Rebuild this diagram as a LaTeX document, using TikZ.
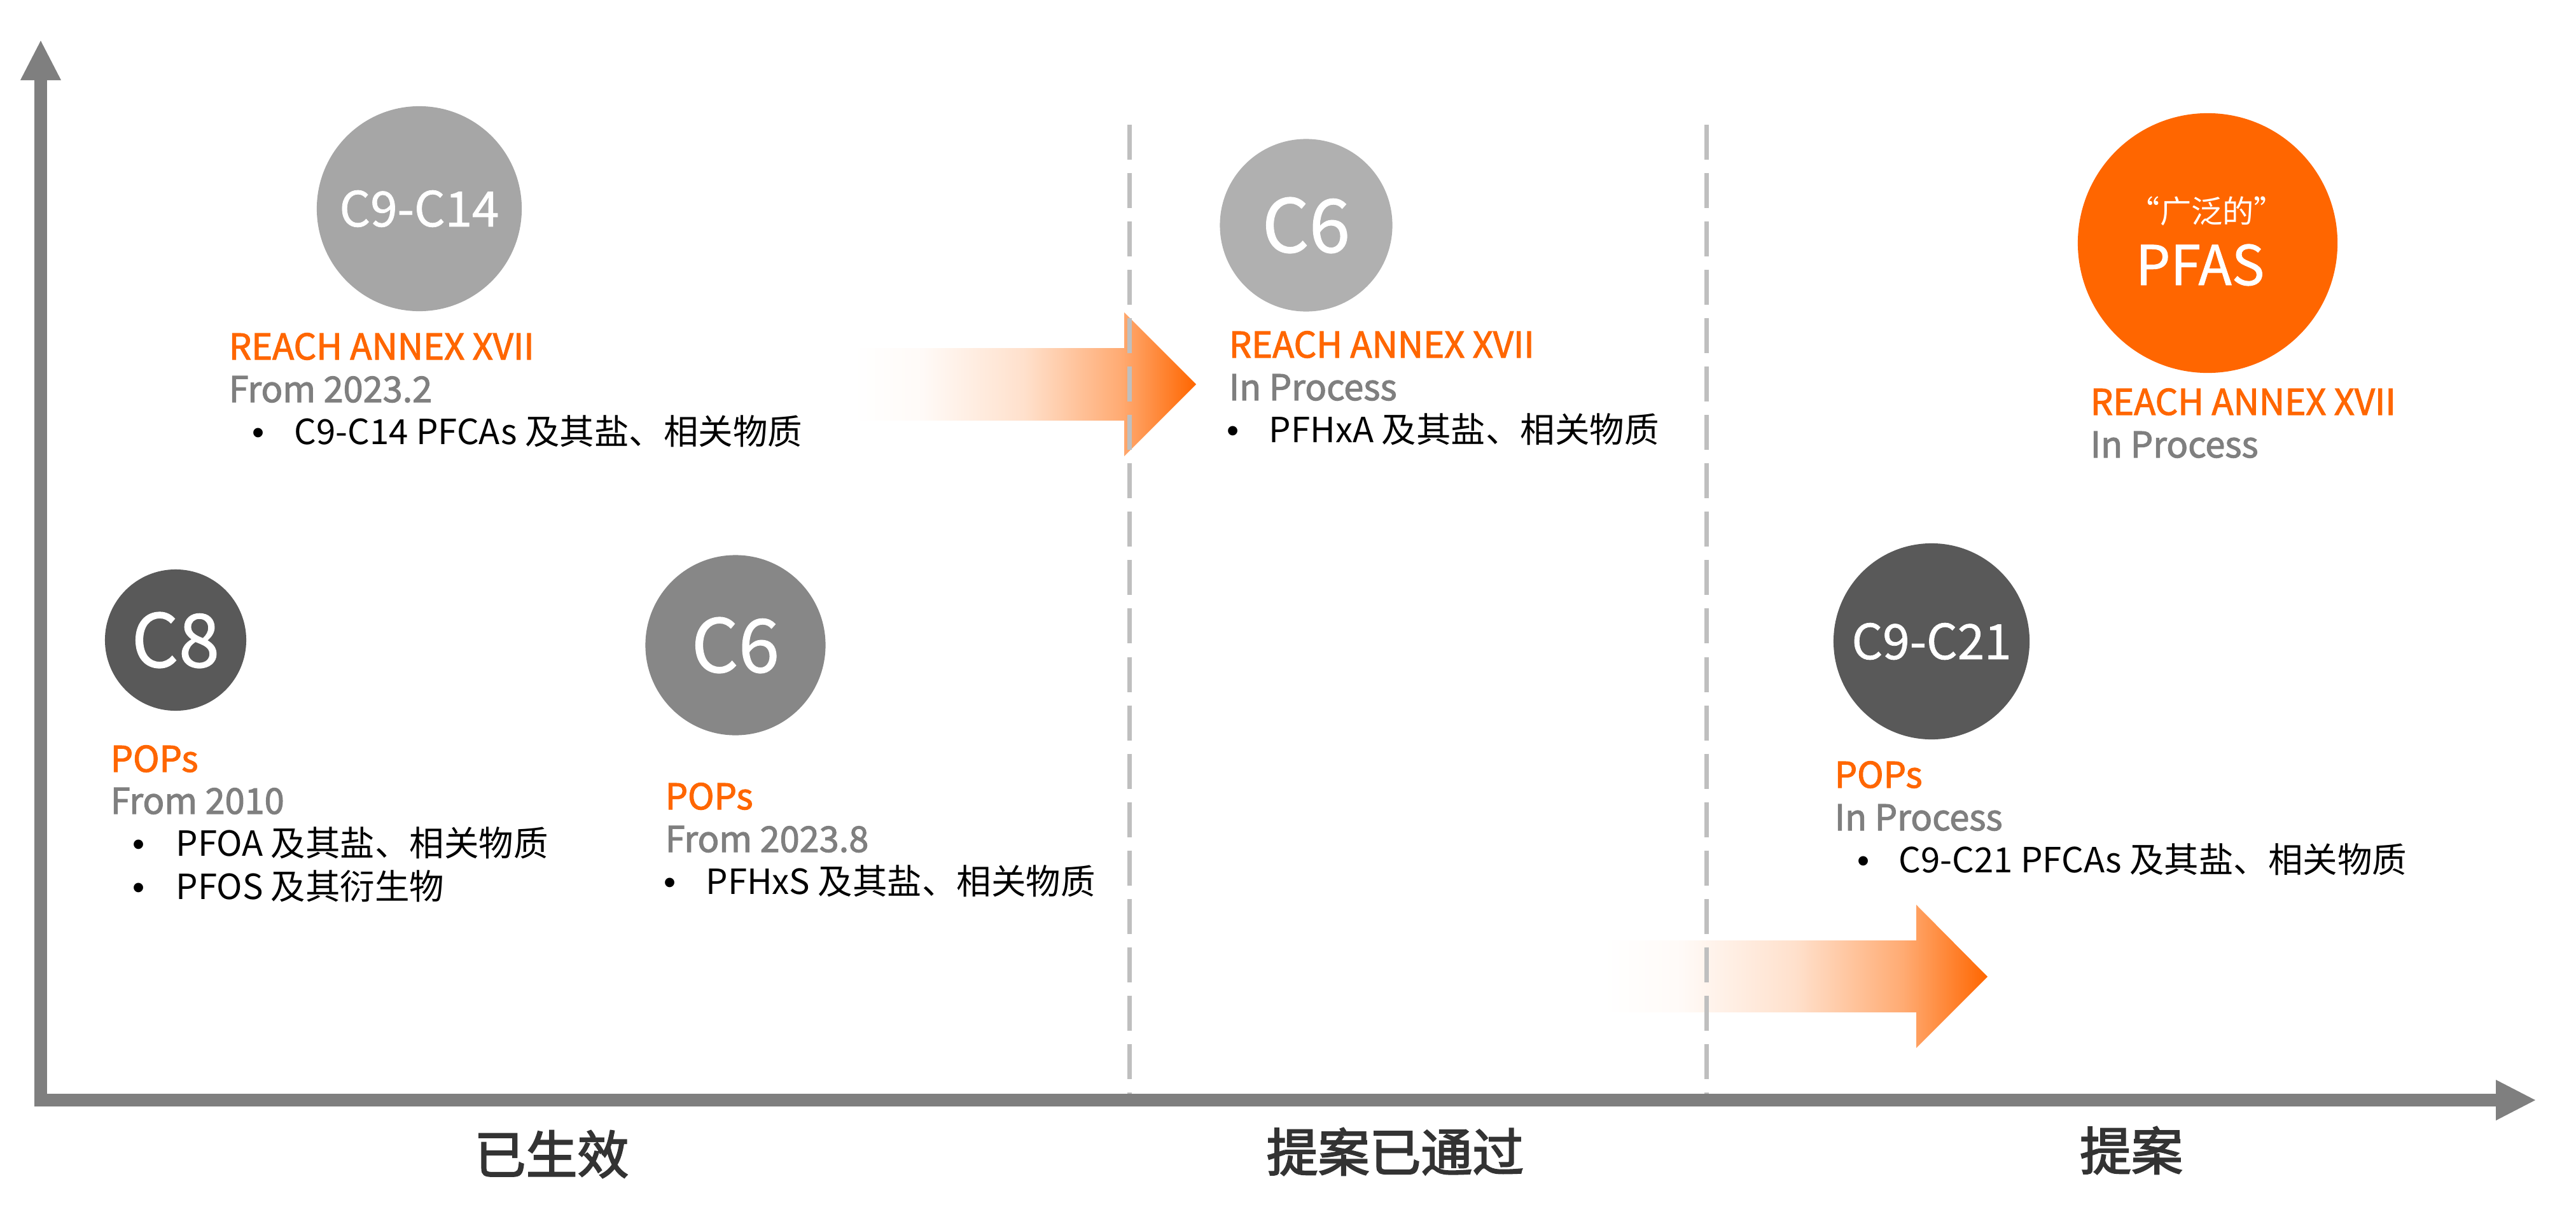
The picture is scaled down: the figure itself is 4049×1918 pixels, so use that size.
\documentclass[tikz,border=0pt]{standalone}
\usepackage{fontspec}
\setmainfont{Noto Sans CJK SC}
\newfontfamily\medfont[FakeBold=2.0]{Noto Sans CJK SC}
\newfontfamily\phasefont[FakeBold=2.5]{Noto Sans CJK SC}
\newfontfamily\lightbold[FakeBold=1.0]{Noto Sans CJK SC}
\newfontfamily\bulfont{Liberation Sans}
\definecolor{orangeC}{HTML}{FF6600}
\definecolor{axisC}{HTML}{7F7F7F}
\definecolor{dashC}{HTML}{BFBFBF}
\definecolor{grayT}{HTML}{7F7F7F}
\definecolor{darkT}{HTML}{333333}
\definecolor{cDark}{HTML}{595959}
\definecolor{cMid}{HTML}{878787}
\definecolor{cLight}{HTML}{A6A6A6}
\definecolor{cLighter}{HTML}{B0B0B0}
\colorlet{orA}{orangeC!3!white}
\colorlet{orB}{orangeC!20!white}
\colorlet{orC}{orangeC!55!white}
\pgfdeclarehorizontalshading{arrowfade}{100bp}{color(0bp)=(white); color(25bp)=(white); color(35bp)=(orA); color(50bp)=(orB); color(64bp)=(orC); color(75bp)=(orangeC); color(100bp)=(orangeC)}
\tikzset{
  bubble/.style={circle, inner sep=0pt, text=white},
  head/.style={anchor=base west, inner sep=0pt, text=orangeC, font=\medfont\fontsize{15.9}{18}\selectfont},
  sub/.style={anchor=base west, inner sep=0pt, text=grayT, font=\medfont\fontsize{15.9}{18}\selectfont},
  item/.style={anchor=base west, inner sep=0pt, text=black, font=\fontsize{15.5}{18}\selectfont},
  dot/.style={anchor=base west, inner sep=0pt, text=black, font=\bulfont\fontsize{15.5}{18}\selectfont},
  phase/.style={anchor=center, inner sep=0pt, text=darkT, font=\phasefont\fontsize{23}{26}\selectfont},
  dashline/.style={draw=dashC, line width=0.07cm, dash pattern=on 0.55cm off 0.21cm},
  axisline/.style={draw=axisC, line width=0.2cm},
}
\begin{document}
\begin{tikzpicture}[x=0.01cm,y=-0.01cm]
\useasboundingbox (0,0) rectangle (4049,1918);

% gradient arrows
\shade[shading=arrowfade] (1340,547) -- (1767,547) -- (1767,491) -- (1880,604) -- (1767,717) -- (1767,661) -- (1340,661) -- cycle;
\shade[shading=arrowfade] (2520,1478) -- (3012,1478) -- (3012,1422) -- (3124,1535) -- (3012,1647) -- (3012,1591) -- (2520,1591) -- cycle;

% dashed separators
\coordinate (d1t) at (1775,196); \coordinate (d1b) at (1775,1719);
\coordinate (d2t) at (2682,196); \coordinate (d2b) at (2682,1719);
\draw[dashline] (d1t) -- (d1b);
\draw[dashline] (d2t) -- (d2b);

% axes
\coordinate (yb) at (64,1739); \coordinate (yt) at (64,120);
\coordinate (xl) at (54,1729); \coordinate (xr) at (3928,1729);
\draw[axisline] (yb) -- (yt);
\fill[axisC] (32,126) -- (96,126) -- (64,64) -- cycle;
\draw[axisline] (xl) -- (xr);
\fill[axisC] (3923,1697) -- (3923,1761) -- (3985,1729) -- cycle;

% circles
\node[bubble, fill=cLight, minimum size=3.22cm, font=\lightbold\fontsize{21.7}{24}\selectfont] (c914) at (659,328) {C9-C14};
\node[bubble, fill=cLighter, minimum size=2.71cm, font=\lightbold\fontsize{33}{36}\selectfont] (c6top) at (2053,354) {C6};
\node[bubble, fill=orangeC, minimum size=4.08cm] (pfas) at (3470,382) {};
\node[inner sep=0pt, anchor=base, text=white, font=\fontsize{14}{16}\selectfont] (pfasq) at (3469,350) {“广泛的”};
\node[inner sep=0pt, anchor=base, text=white, font=\lightbold\fontsize{24.5}{28}\selectfont] (pfast) at (3458,448) {PFAS};
\node[bubble, fill=cDark, minimum size=2.22cm, font=\lightbold\fontsize{33}{36}\selectfont] (c8) at (276,1006) {C8};
\node[bubble, fill=cMid, minimum size=2.83cm, font=\lightbold\fontsize{33}{36}\selectfont] (c6bot) at (1156,1014) {C6};
\node[bubble, fill=cDark, minimum size=3.08cm, font=\lightbold\fontsize{21.7}{24}\selectfont] (c921) at (3036,1008) {C9-C21};

% block 1
\node[head] (b1h) at (359,565) {REACH ANNEX XVII};
\node[sub] (b1s) at (359,632) {From 2023.2};
\node[dot] (b1d) at (396,698) {•};
\node[item] (b1t) at (462,698) {C9-C14 PFCAs 及其盐、相关物质};

% block 2
\node[head] (b2h) at (1931,562) {REACH ANNEX XVII};
\node[sub] (b2s) at (1931,629) {In Process};
\node[dot] (b2d) at (1928,695) {•};
\node[item] (b2t) at (1994,695) {PFHxA 及其盐、相关物质};

% block 3
\node[head] (b3h) at (3285,652) {REACH ANNEX XVII};
\node[sub] (b3s) at (3285,719) {In Process};

% block 4
\node[head] (b4h) at (173,1213) {POPs};
\node[sub] (b4s) at (173,1279) {From 2010};
\node[dot] (b4d1) at (208,1345) {•};
\node[item] (b4t1) at (276,1345) {PFOA 及其盐、相关物质};
\node[dot] (b4d2) at (208,1413) {•};
\node[item] (b4t2) at (276,1413) {PFOS 及其衍生物};

% block 5
\node[head] (b5h) at (1045,1272) {POPs};
\node[sub] (b5s) at (1045,1339) {From 2023.8};
\node[dot] (b5d) at (1043,1405) {•};
\node[item] (b5t) at (1109,1405) {PFHxS 及其盐、相关物质};

% block 6
\node[head] (b6h) at (2883,1238) {POPs};
\node[sub] (b6s) at (2883,1305) {In Process};
\node[dot] (b6d) at (2919,1371) {•};
\node[item] (b6t) at (2984,1371) {C9-C21 PFCAs 及其盐、相关物质};

% phase labels
\node[phase] (p1) at (867,1814) {已生效};
\node[phase] (p2) at (2193,1810) {提案已通过};
\node[phase] (p3) at (3350,1808) {提案};
\end{tikzpicture}
\end{document}
